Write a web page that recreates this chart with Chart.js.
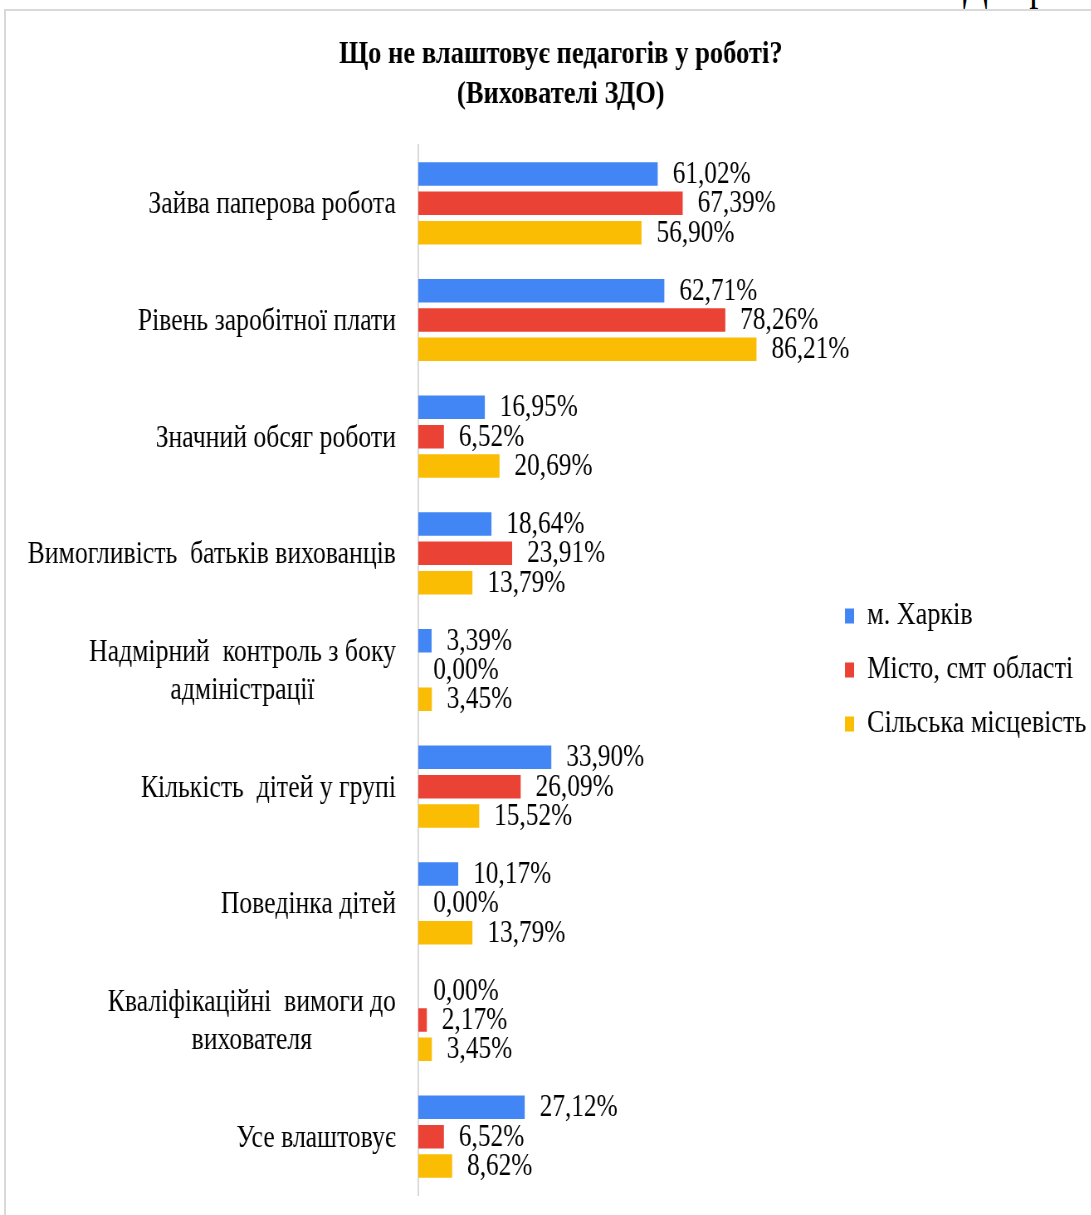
<!DOCTYPE html>
<html lang="uk">
<head>
<meta charset="utf-8">
<title>Що не влаштовує педагогів у роботі?</title>
<script src="https://cdn.jsdelivr.net/npm/chart.js@4.4.1/dist/chart.umd.min.js"></script>
<style>
  html, body { margin: 0; padding: 0; background: #fff; overflow: hidden; }
  body { width: 1091px; height: 1215px; position: relative; }
  #frame { position: absolute; left: 4px; top: 9px; width: 1200px; height: 1300px;
           border-left: 2px solid #d9d9d9; border-top: 2px solid #d9d9d9; }
  #squeeze { position: absolute; left: 0; top: 0; transform: scaleX(0.83); transform-origin: 0 0; }
  #caption { position: absolute; left: 963px; top: -36px; font: 44px 'Liberation Serif', serif;
             line-height: 44px; white-space: nowrap; color: #000;
             transform: scaleX(0.83); transform-origin: 0 0; }
</style>
</head>
<body>
<div id="caption">Діаграма</div>
<div id="frame"></div>
<div id="squeeze">
  <canvas id="chart" width="1340" height="1215" style="width:1340px;height:1215px"></canvas>
</div>
<script>
const categories = [
  'Зайва паперова робота',
  'Рівень заробітної плати',
  'Значний обсяг роботи',
  'Вимогливість  батьків вихованців',
  ['Надмірний  контроль з боку', 'адміністрації'],
  'Кількість  дітей у групі',
  'Поведінка дітей',
  ['Кваліфікаційні  вимоги до', 'вихователя'],
  'Усе влаштовує'
];
const seriesNames = ['м. Харків', 'Місто, смт області', 'Сільська місцевість'];
const kharkiv = [61.02, 62.71, 16.95, 18.64, 3.39, 33.90, 10.17, 0.00, 27.12];
const oblastTowns = [67.39, 78.26, 6.52, 23.91, 0.00, 26.09, 0.00, 2.17, 6.52];
const rural = [56.90, 86.21, 20.69, 13.79, 3.45, 15.52, 13.79, 3.45, 8.62];
const titleLines = ['Що не влаштовує педагогів у роботі?', '(Вихователі ЗДО)'];

const seriesColors = ['#4285F4', '#EA4335', '#FBBC04'];
const serif = "'Liberation Serif', 'Times New Roman', serif";

// layout (canvas units, before the horizontal squeeze)
const canvasW = 1340;
const padLeft = 36;
const yAxisWidth = 468;
const plotRight = 992;
const legendFont = 31.5;
const legendPad = 22.5;
const legendBox = 11;

function formatPct(v) {
  return v.toFixed(2).replace('.', ',') + '%';
}

// legend sits right of the plot; size the right padding so the plot ends at plotRight
const measure = document.createElement('canvas').getContext('2d');
measure.font = legendFont + 'px ' + serif;
const legendText = Math.max(...seriesNames.map((n) => measure.measureText(n).width));
const legendWidth = legendPad + legendBox + legendFont / 2 + legendText + 10;
const padRight = canvasW - plotRight - legendWidth;

// value labels to the right of each bar
const valueLabels = {
  id: 'valueLabels',
  afterDatasetsDraw(chart) {
    const ctx = chart.ctx;
    ctx.save();
    ctx.font = '30.5px ' + serif;
    ctx.fillStyle = '#000';
    ctx.textAlign = 'left';
    ctx.textBaseline = 'middle';
    chart.data.datasets.forEach((ds, i) => {
      chart.getDatasetMeta(i).data.forEach((bar, j) => {
        ctx.fillText(formatPct(ds.data[j]), bar.x + 18, bar.y + 1);
      });
    });
    ctx.restore();
  }
};

// category names: block right-aligned to the axis, lines centred inside the block
const categoryLabels = {
  id: 'categoryLabels',
  afterDraw(chart) {
    const scale = chart.scales.y;
    const ctx = chart.ctx;
    ctx.save();
    ctx.font = '31px ' + serif;
    ctx.fillStyle = '#000';
    ctx.textAlign = 'center';
    ctx.textBaseline = 'middle';
    const right = scale.right - 27;
    categories.forEach((label, i) => {
      const lines = Array.isArray(label) ? label : [label];
      const widest = Math.max(...lines.map((l) => ctx.measureText(l).width));
      const y = scale.getPixelForTick(i) + 2;
      lines.forEach((line, k) => {
        ctx.fillText(line, right - widest / 2, y + (k - (lines.length - 1) / 2) * 38);
      });
    });
    ctx.restore();
  }
};

const datasets = [kharkiv, oblastTowns, rural].map((values, i) => ({
  label: seriesNames[i],
  data: values,
  backgroundColor: seriesColors[i],
  borderWidth: 0,
  categoryPercentage: 0.754,
  barPercentage: 0.8
}));

new Chart(document.getElementById('chart'), {
  type: 'bar',
  data: { labels: categories, datasets },
  plugins: [valueLabels, categoryLabels],
  options: {
    indexAxis: 'y',
    responsive: false,
    animation: false,
    devicePixelRatio: 1,
    layout: { padding: { top: 10, left: padLeft, right: padRight, bottom: 20 } },
    plugins: {
      title: {
        display: true,
        text: titleLines,
        color: '#000',
        font: { family: serif, size: 32, weight: 'bold', lineHeight: 40 / 32 },
        padding: { top: 25, bottom: 30 }
      },
      legend: {
        position: 'right',
        align: 'center',
        fullSize: false,
        labels: {
          color: '#000',
          font: { family: serif, size: legendFont },
          boxWidth: legendBox,
          boxHeight: 15,
          padding: legendPad
        }
      },
      tooltip: { enabled: false }
    },
    scales: {
      x: { display: false, min: 0, max: 104 },
      y: {
        grid: { display: false },
        border: { display: true, color: '#d9d9d9', width: 2 },
        ticks: { display: false },
        afterFit: (scale) => { scale.width = yAxisWidth; }
      }
    }
  }
});
</script>
</body>
</html>
